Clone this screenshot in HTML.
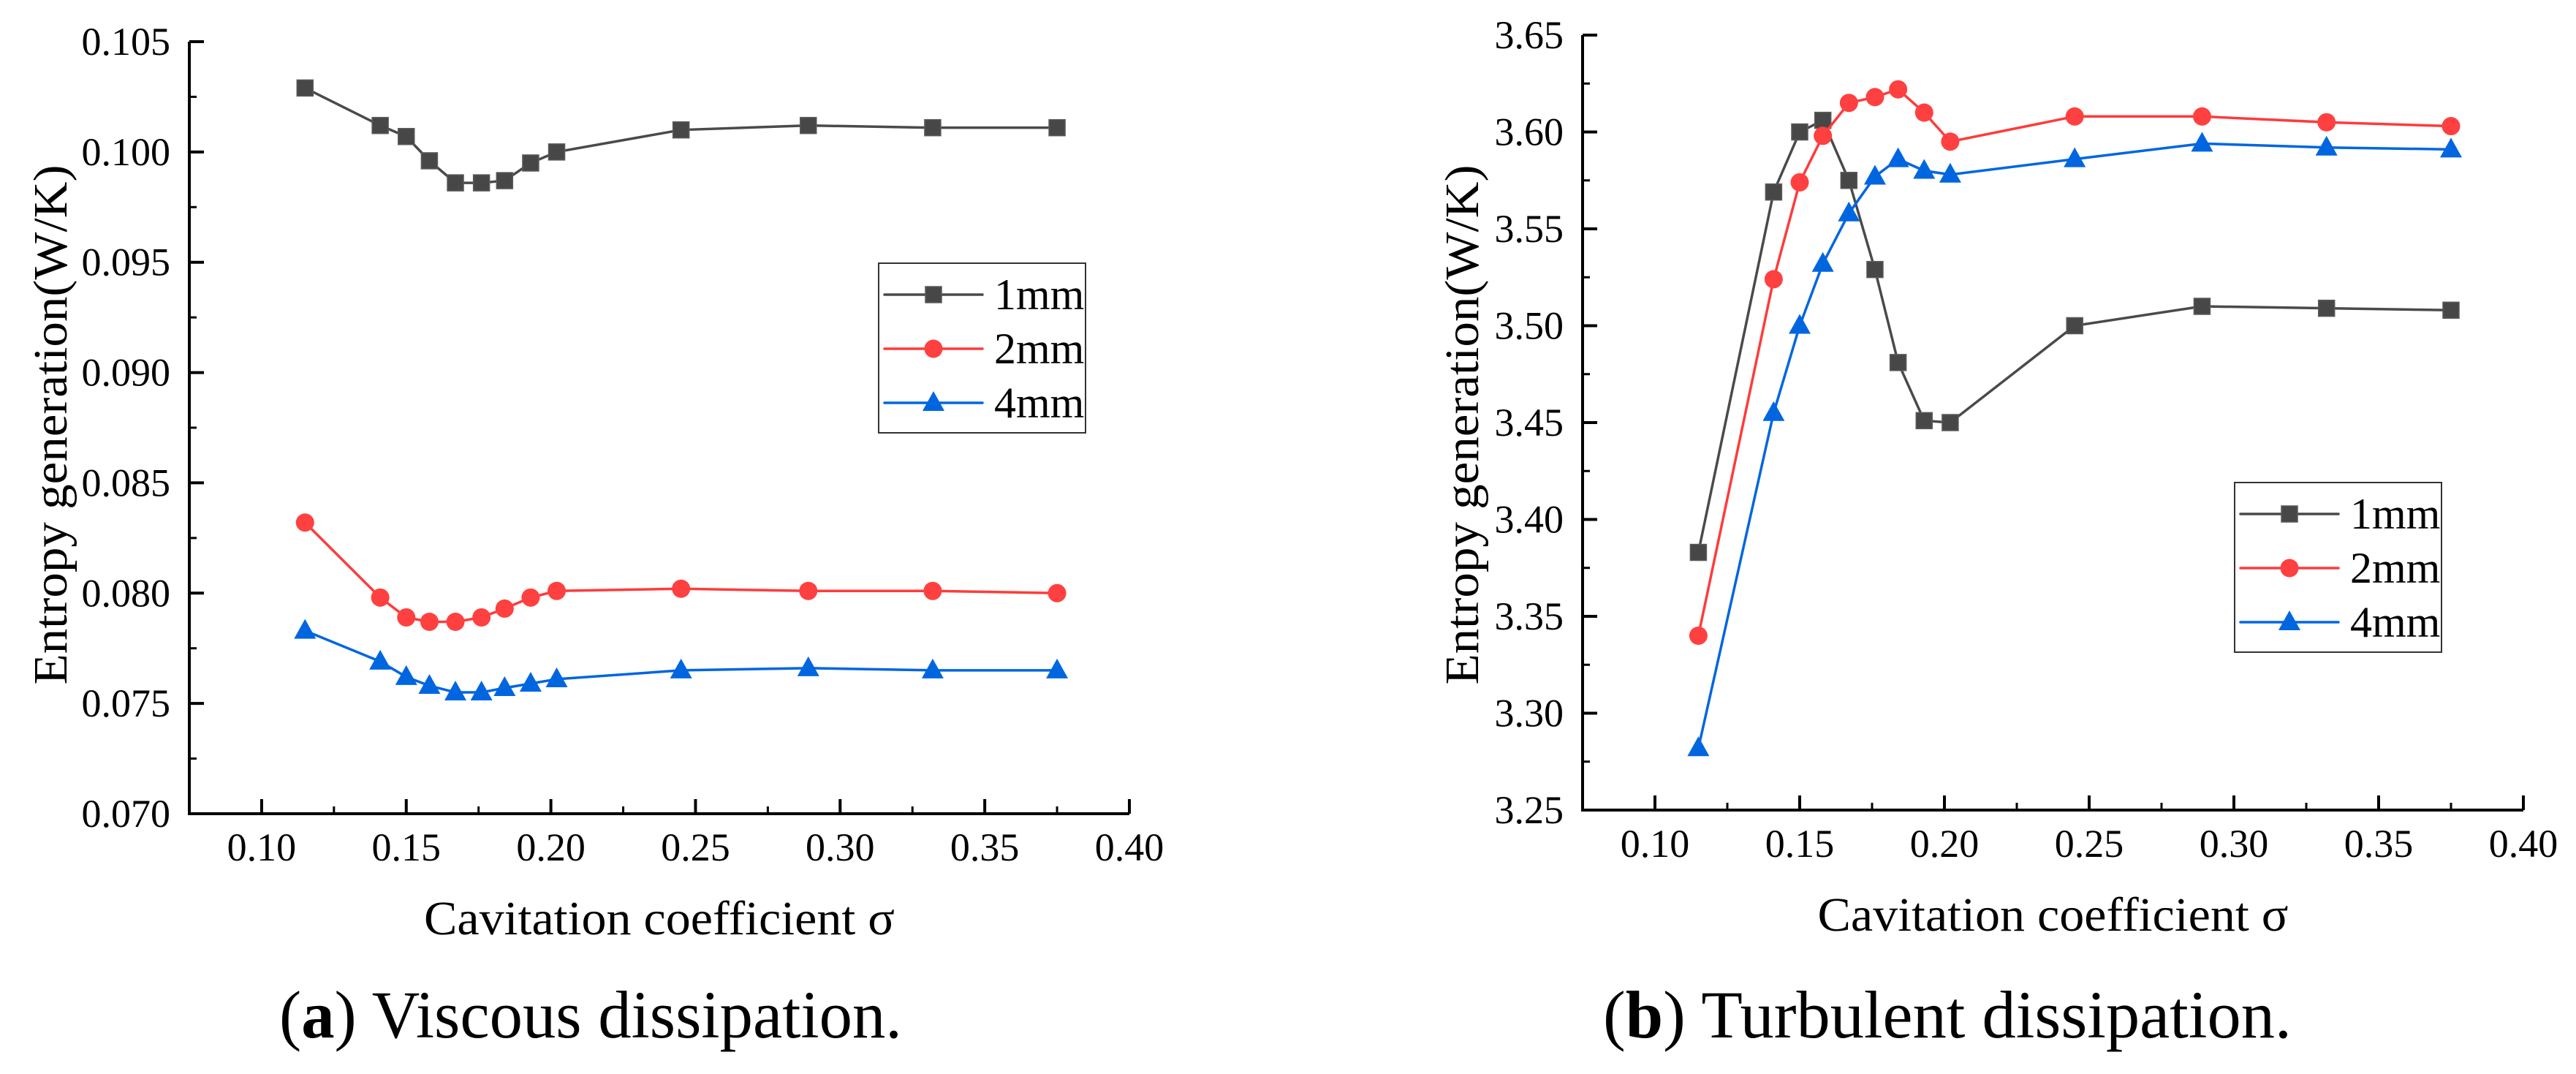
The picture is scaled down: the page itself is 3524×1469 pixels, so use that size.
<!DOCTYPE html>
<html><head><meta charset="utf-8"><style>
html,body{margin:0;padding:0;background:#fff;}
svg{display:block;font-family:"Liberation Serif",serif;}
svg text{font-family:"Liberation Serif",serif;}
</style></head><body>
<svg id="fig" width="3524" height="1469" viewBox="0 0 3524 1469" xmlns="http://www.w3.org/2000/svg" font-family="Liberation Serif, serif">
<rect width="3524" height="1469" fill="#fff"/>
</svg>
<script>
const sigma = [0.115,0.141,0.150,0.158,0.167,0.176,0.184,0.193,0.202,0.245,0.289,0.332,0.375];
const seriesNames = ["1mm","2mm","4mm"];
const viscous1 = [0.1029,0.1012,0.1007,0.0996,0.0986,0.0986,0.0987,0.0995,0.1000,0.1010,0.1012,0.1011,0.1011];
const viscous2 = [0.0832,0.0798,0.0789,0.0787,0.0787,0.0789,0.0793,0.0798,0.0801,0.0802,0.0801,0.0801,0.0800];
const viscous4 = [0.0783,0.0769,0.0762,0.0758,0.0755,0.0755,0.0757,0.0759,0.0761,0.0765,0.0766,0.0765,0.0765];
const turb1 = [3.383,3.569,3.600,3.606,3.575,3.529,3.481,3.451,3.450,3.500,3.510,3.509,3.508];
const turb2 = [3.340,3.524,3.574,3.598,3.615,3.618,3.622,3.610,3.595,3.608,3.608,3.605,3.603];
const turb4 = [3.282,3.455,3.500,3.532,3.558,3.577,3.586,3.580,3.578,3.586,3.594,3.592,3.591];
const xTicks = ["0.10","0.15","0.20","0.25","0.30","0.35","0.40"];
const yTicksA = ["0.070","0.075","0.080","0.085","0.090","0.095","0.100","0.105"];
const yTicksB = ["3.25","3.30","3.35","3.40","3.45","3.50","3.55","3.60","3.65"];

const NS="http://www.w3.org/2000/svg";
const FF="Liberation Serif, serif";
const svg=document.getElementById('fig');
const colors={line:["#4a4a4a","#ff3b3b","#0066e0"],mark:["#474747","#ff4040","#0066e0"]};
function el(tag,attrs,parent){const e=document.createElementNS(NS,tag);for(const k in attrs)e.setAttribute(k,attrs[k]);if(tag==='text')e.setAttribute('font-family',FF);(parent||svg).appendChild(e);return e;}

function marker(g,type,cx,cy){
  let m;
  if(type===0){m=el('rect',{x:cx-11,y:cy-11,width:22,height:22,fill:colors.mark[0],stroke:"#5a5a5a","stroke-width":1.5},g);}
  else if(type===1){m=el('circle',{cx:cx,cy:cy,r:12.5,fill:colors.mark[1]},g);}
  else {m=el('polygon',{points:`${cx},${cy-16} ${cx+15},${cy+11} ${cx-15},${cy+11}`,fill:colors.mark[2]},g);}
  
  
}

function drawChart(o){
  const g=el('g',{});
  
  
  const xs=v=>o.x0+(v-0.075)/(0.40-0.075)*(o.x1-o.x0);
  const ys=v=>o.yb-(v-o.ymin)/(o.ymax-o.ymin)*(o.yb-o.yt);
  const ax=el('path',{d:`M${o.x0},${o.yt} V${o.yb} H${o.x1}`,fill:"none",stroke:"#000","stroke-width":4},g);
  
  
  const yl=o.yLabels;
  for(let i=0;i<yl.length;i++){
    const v=parseFloat(yl[i]); const y=ys(v);
    el('line',{x1:o.x0,y1:y,x2:o.x0+20,y2:y,stroke:"#000","stroke-width":4},g);
    if(i<yl.length-1){const ym=ys(v+o.ystep/2);el('line',{x1:o.x0,y1:ym,x2:o.x0+10,y2:ym,stroke:"#000","stroke-width":3},g);}
    const t=el('text',{x:o.x0-26,y:y+18,"font-size":54,"text-anchor":"end",fill:"#000"},g);
    t.textContent=yl[i];
    
    
  }
  for(let i=0;i<xTicks.length;i++){
    const v=parseFloat(xTicks[i]); const x=xs(v);
    el('line',{x1:x,y1:o.yb,x2:x,y2:o.yb-20,stroke:"#000","stroke-width":4},g);
    const xm=xs(v-0.025); el('line',{x1:xm,y1:o.yb,x2:xm,y2:o.yb-10,stroke:"#000","stroke-width":3},g);
    const t=el('text',{x:x,y:o.yb+64,"font-size":54,"text-anchor":"middle",fill:"#000"},g);
    t.textContent=xTicks[i];
    
    
  }
  const yt=el('text',{x:0,y:0,"font-size":66,"text-anchor":"middle",fill:"#000",transform:`translate(${o.yTitleX},581) rotate(-90)`,textLength:711,lengthAdjust:"spacingAndGlyphs"},g);
  yt.textContent="Entropy generation(W/K)";
  
  
  const xt=el('text',{x:(o.x0+o.x1)/2,y:o.yb+165,"font-size":66,"text-anchor":"middle",fill:"#000",textLength:644,lengthAdjust:"spacingAndGlyphs"},g);
  xt.textContent="Cavitation coefficient σ";
  
  
  const cap=el('text',{x:o.capX,y:1419,"font-size":92,"text-anchor":"middle",fill:"#000",textLength:o.capW,lengthAdjust:"spacingAndGlyphs"},g);
  cap.innerHTML=`(<tspan font-weight="bold">${o.capL}</tspan>) ${o.capText}`;
  
  
  o.data.forEach((arr,si)=>{
    const sg=el('g',{},g);
    
    
    const pts=arr.map((v,i)=>`${xs(sigma[i])},${ys(v)}`).join(' ');
    el('polyline',{points:pts,fill:"none",stroke:colors.line[si],"stroke-width":3.5},sg);
    arr.forEach((v,i)=>marker(sg,si,xs(sigma[i]),ys(v)));
  });
  const lg=el('g',{},g);
  
  
  el('rect',{x:o.lx,y:o.ly,width:283,height:232,fill:"#fff",stroke:"#333","stroke-width":2},lg);
  seriesNames.forEach((n,si)=>{
    const y=o.ly+43+si*74;
    const e=el('g',{},lg);
    
    
    el('line',{x1:o.lx+8,y1:y,x2:o.lx+142,y2:y,stroke:colors.line[si],"stroke-width":3.5,"stroke-linecap":"round"},e);
    marker(e,si,o.lx+75,y);
    const t=el('text',{x:o.lx+158,y:y+20,"font-size":60,fill:"#000"},e);
    t.textContent=n;
  });
}

drawChart({name:"chart-viscous",x0:259,x1:1545,yt:57,yb:1113,ymin:0.070,ymax:0.105,ystep:0.005,yLabels:yTicksA,
  data:[viscous1,viscous2,viscous4],yTitleX:91,capX:808,capW:852,capL:"a",capText:"Viscous dissipation.",lx:1202,ly:360});
drawChart({name:"chart-turbulent",x0:2165,x1:3452,yt:48,yb:1108,ymin:3.25,ymax:3.65,ystep:0.05,yLabels:yTicksB,
  data:[turb1,turb2,turb4],yTitleX:2022,capX:2664,capW:942,capL:"b",capText:"Turbulent dissipation.",lx:3057,ly:660});
</script>
</body></html>
